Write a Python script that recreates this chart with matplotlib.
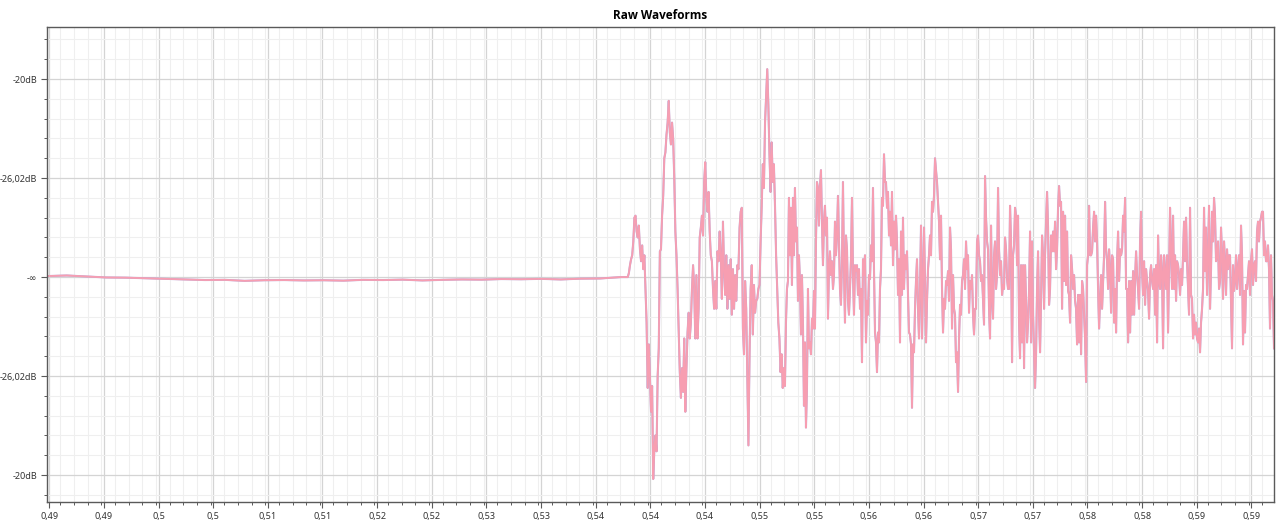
import numpy as np
import matplotlib
matplotlib.use("Agg")
import matplotlib.pyplot as plt
from matplotlib.ticker import MultipleLocator, FixedLocator, FixedFormatter

plt.rcParams['font.family'] = ['Noto Sans', 'DejaVu Sans']

# ---------------- data (amplitude in thousandths of full scale) ----------------
# quiet lead-in, read every ~20 px
quiet = [0.5, 0.8, 0.3, -0.2, -0.3, -0.6, -0.9, -1.2, -1.5, -1.4, -1.9, -1.6, -1.5, -1.7,
         -1.6, -1.8, -1.4, -1.5, -1.3, -1.7, -1.4, -1.2, -1.3, -1.0, -1.1, -0.9, -1.2, -0.8, -0.7]

# onset + speech, read roughly every pixel, in four chunks
wave_a = [0, 0, 0, 0, 0, 0, 0, 0,
          2, 6, 9, 11, 18, 30, 31, 23, 20, 26, 14, 8, 16, 4, 11, -6, -23, -56, -34, -50,
          -68, -55, -102, -87, -80, -88, -50, -36, 13, 14, 31, 41, 60, 63, 72, 78, 89, 73,
          67, 78, 70, 50, 23, 11, -6, -26, -48, -61, -46, -58, -31, -68, -46, -28, -18, -31,
          -23, -6, 6, -6, -31, 1, -31, -16, 20, 25, 31, 21, 48, 58, 40, 33, 43, 23, 11, 8,
          -6, -16, -2, -16, 13, 8, 23, 11, -11, 28, 3, -9, 11, -16, 6, -11, 9, -19, 4, -16,
          1, -12, 6, 4, 25, 33, 35, -26, -39, -2, -16, -50, -85, -39, -6, 6, -29, -4, -18,
          -12, -11, -6, -4, 18, 36, 57, 45, 78, 92, 105, 87, 62, 43, 68, 48, 57, 36, 11, -6,
          -23, -31, -48, -39, -56, -46]

wave_b = [-55, -23, -6, -2, 40, 11, 35, -4, 40, 11, 45, 18, 25, -12, 11, -2, -29, 1, -24,
          -65, -33, -76, -56, -6, -36, -33, -39, -21, -26, -7, -26, 18, 48, 45, 26, 46, 54,
          28, 6, 28, 36, 21, 30, -21, 4, 13, 1, 8, -6, 1, 28, 11, 21, 41, 18, -6, -14, 8, 48,
          4, -23, 21, 14, -12, -19, -6, 9, 40, 1, -19, 6, 3, 6, -9, 4, -16, -6, -43, 9, 1, 11,
          -33, -12, -19, 1, -1, 16, 8, 45, 4, -28, -33, -48, -28, -33, -6, 4, 40, 36, 62, 48,
          48, 35, 43, 21, 33, 16, 43, 6, 28, 14, 31, 18, -9, 9, -33, 23, -9, 30, -6, 11, 4,
          13, -9, -28, -29, -34, -66, -34, -38, -16, -2, 9, -16, -31, -6, 26, -31, -2, 25, -2,
          -33, -12, 4, 11, 21, 11, 38, 33, 41, 60, 54, 48, 38, 28, 9, 31, -6, -28, -11, -16,
          -2, -4, 3, -12]

wave_c = [25, 14, -26, 1, -16, -19, -43, -38, -58, -31, -14, -19, -2, 1, 9, -6, 18, 4, 11,
          -18, -2, -6, 1, -19, -29, -16, -16, 18, 21, 11, 8, -2, 1, -11, -24, 51, 30, 18, 14,
          -16, -31, 26, -11, -21, 11, 18, -6, 1, 45, 14, 1, 8, -9, -4, -6, 20, 14, -1, -6, -6,
          36, 18, -43, 11, 16, 35, 31, 6, 31, -23, -41, 6, -33, 6, -46, 6, -12, -33, -23, -7,
          23, -33, 18, -19, -38, -56, -39, -6, 13, -19, -38, -11, 21, 11, -16, 11, 28, 43, 25,
          -14, -6, 21, 13, 23, 13, 28, 4, 14, 35, 46, 36, 38, -16, 33, -2, 31, -4, 23, -7, -9,
          -23, 11, 4, -6, 1, -12, -16, -34, -9, -33, -9, -39, -2, -6, -18, -31, -53, 6, 11, 36,
          11, 11, 13, 25, 33, 18, 31, 18, -6, -26, -11, 1, -16, -2, 11, 38, 14, 8, -6, 14, 4,
          -18, 11, 9, -23]

wave_d = [-6, -28, 8, 23, -2, 14, 11, 14, 31, 23, 40, -6, -6, -33, -2, -28, -2, -19, 3, -19,
          -1, 13, 1, -6, -16, 18, 33, 3, -9, 8, -14, 4, -2, -7, -21, 1, 6, -2, -6, 4, -19, 6,
          -33, 21, -2, -6, 11, 3, -36, 11, 3, -6, 11, -28, 3, 35, 11, -6, 31, -6, 11, -12, 8,
          6, 1, -9, 4, -4, 11, 28, 8, 30, 8, -6, -19, 35, -9, -11, -31, -19, -29, -23, -31,
          -33, -26, -38, -23, -16, -6, 35, 3, 25, -9, 11, 36, -16, 4, 33, 18, 40, 31, 8, 11,
          18, -6, -2, 25, 11, -11, 18, 8, -9, 14, 4, 11, 11, -12, -36, 6, -7, -2, 11, -6, 4,
          11, -9, 26, 11, -34, -7, -28, -4, -6, 1, 8, -9, 8, 14, -4, 6, 8, -2, 23, 28, 18, 28,
          30, 33, 33, 11, 18, 8, 8, 16, 4, -26, 11, -9, -12, -36]

# chunk edges (seconds)
t_left = 0.48981
t_quiet_end = 0.53737
t_edges = [0.53737, 0.55106, 0.56476, 0.57846, 0.59165]

# x tick labels as shown
tick_start = 0.49
tick_step = 0.004535
x_labels = ["0,49", "0,49", "0,5", "0,5", "0,51", "0,51", "0,52", "0,52", "0,53", "0,53",
            "0,54", "0,54", "0,54", "0,55", "0,55", "0,56", "0,56", "0,57", "0,57", "0,58",
            "0,58", "0,59", "0,59"]
y_ticks = [-0.1, -0.05, 0.0, 0.05, 0.1]
y_labels = ["-20dB", "-26,02dB", "-\u221e", "-26,02dB", "-20dB"]

# ---------------- build time axis ----------------
t_q = np.linspace(t_left, t_quiet_end, len(quiet), endpoint=False)
chunks = [wave_a, wave_b, wave_c, wave_d]
ts = [t_q]
vs = [np.array(quiet)]
for i, ch in enumerate(chunks):
    last = (i == len(chunks) - 1)
    ts.append(np.linspace(t_edges[i], t_edges[i + 1], len(ch), endpoint=last))
    vs.append(np.array(ch, dtype=float))
t = np.concatenate(ts)
amp = np.concatenate(vs) / 1000.0

# ---------------- plot ----------------
fig = plt.figure(figsize=(12.8, 5.27), dpi=100)
ax = fig.add_axes([47 / 1280, 1 - 502 / 527, (1274 - 47) / 1280, (502 - 27) / 527])

ax.plot(t, amp, color="#b9aadb", lw=1.5, solid_joinstyle="round")
ax.plot(t, amp, color="#f79eb1", lw=1.3, solid_joinstyle="round")

ax.set_xlim(t_left, t_edges[-1])
ax.set_ylim(-0.1136, 0.1263)

xt = [tick_start + k * tick_step for k in range(len(x_labels))]
ax.xaxis.set_major_locator(FixedLocator(xt))
ax.xaxis.set_major_formatter(FixedFormatter(x_labels))
ax.xaxis.set_minor_locator(MultipleLocator(tick_step / 4))
ax.yaxis.set_major_locator(FixedLocator(y_ticks))
ax.yaxis.set_major_formatter(FixedFormatter(y_labels))
ax.yaxis.set_minor_locator(MultipleLocator(0.01))

ax.grid(which="major", color="#d4d4d4", lw=0.9)
ax.grid(which="minor", color="#efefef", lw=0.8)
ax.set_axisbelow(True)

for s in ax.spines.values():
    s.set_color("#5a5a5a")
    s.set_linewidth(1.0)

ax.tick_params(which="major", length=4, width=0.8, color="#5a5a5a", labelsize=6.5,
               labelcolor="#333333", pad=3)
ax.tick_params(which="minor", length=2.5, width=0.7, color="#5a5a5a")

ax.set_title("Raw Waveforms", fontsize=8.5, fontweight="bold", pad=6,
             family=["Open Sans", "DejaVu Sans"])

fig.savefig("out.png", dpi=100, facecolor="white")
